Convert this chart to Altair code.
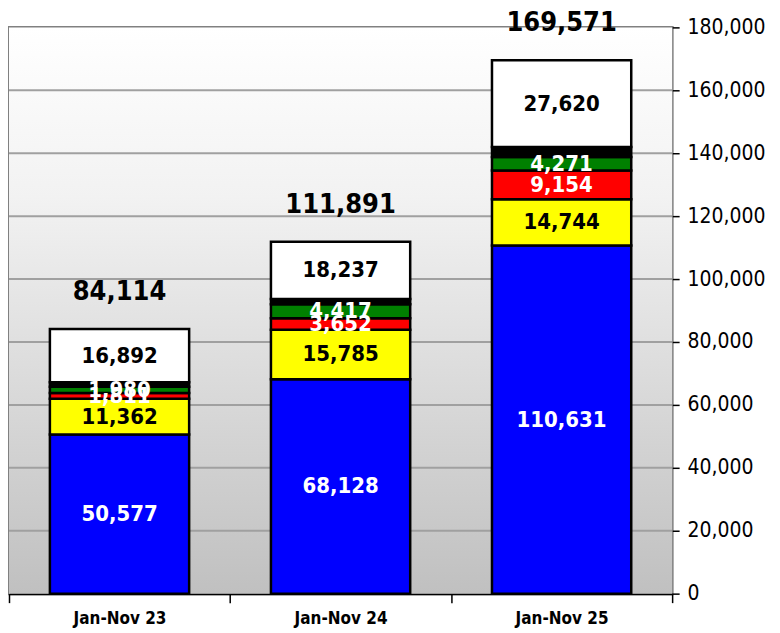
import altair as alt
import pandas as pd

periods = ["Jan-Nov 23", "Jan-Nov 24", "Jan-Nov 25"]
series = ["blue", "yellow", "red", "green", "black", "white"]
blue = [50577, 68128, 110631]
yellow = [11362, 15785, 14744]
red = [1811, 3652, 9154]
green = [1980, 4417, 4271]
black = [1492, 1672, 3151]
white = [16892, 18237, 27620]
totals = [84114, 111891, 169571]
y_ticks = [0, 20000, 40000, 60000, 80000, 100000, 120000, 140000, 160000, 180000]

fill_colors = {"blue": "#0000ff", "yellow": "#ffff00", "red": "#ff0000",
               "green": "#008000", "black": "#000000", "white": "#ffffff"}
text_colors = {"blue": "#ffffff", "yellow": "#000000", "red": "#ffffff",
               "green": "#ffffff", "black": "#000000", "white": "#000000"}
labelled = {"blue", "yellow", "red", "green", "white"}

vals = {"blue": blue, "yellow": yellow, "red": red, "green": green,
        "black": black, "white": white}
rows = []
for i, p in enumerate(periods):
    for k, s in enumerate(series):
        rows.append({"period": p, "series": s, "order": k, "value": vals[s][i],
                     "fill": fill_colors[s], "tc": text_colors[s],
                     "show": s in labelled})
df = pd.DataFrame(rows)
tot_df = pd.DataFrame({"period": periods, "total": totals})
grid_df = pd.DataFrame({"v": y_ticks[1:-1]})

W, H = 664, 567
FONT = "Liberation Sans Narrow, DejaVu Sans Condensed, Arial Narrow, DejaVu Sans, sans-serif"

xscale = alt.Scale(domain=periods, paddingInner=0, paddingOuter=0)
yscale = alt.Scale(domain=[0, 180000], nice=False)

xaxis = alt.Axis(title=None, orient="bottom", labelAngle=0, tickBand="extent",
                 labelFont=FONT, labelFontSize=17, labelFontWeight="bold",
                 labelColor="#000000", labelPadding=8,
                 tickColor="#000000", tickSize=9, tickWidth=1.5,
                 domainColor="#000000", domainWidth=2)
yaxis = alt.Axis(title=None, orient="right", values=y_ticks, format=",d",
                 grid=False, domain=False, tickColor="#000000", tickSize=7,
                 tickWidth=1.5, labelFont=FONT, labelFontSize=21,
                 labelColor="#000000", labelPadding=8)

bg = alt.Chart(pd.DataFrame({"a": [0]})).mark_rect(
    color=alt.LinearGradient(
        gradient="linear", x1=0, y1=0, x2=0, y2=1,
        stops=[alt.GradientStop(color="#ffffff", offset=0),
               alt.GradientStop(color="#f2f2f2", offset=0.3),
               alt.GradientStop(color="#c0c0c0", offset=1)])
).encode(x=alt.value(0), x2=alt.value(W), y=alt.value(0), y2=alt.value(H))

grid = alt.Chart(grid_df).mark_rule(color="#a0a0a0", strokeWidth=2).encode(
    y=alt.Y("v:Q", scale=yscale, axis=yaxis)
)

base = alt.Chart(df).transform_stack(
    stack="value", groupby=["period"], as_=["y0", "y1"],
    sort=[alt.SortField("order", order="ascending")]
).transform_calculate(mid="(datum.y0 + datum.y1) / 2")

bars = base.mark_bar(stroke="#000000", strokeWidth=2.5,
                     width=alt.RelativeBandSize(0.63)).encode(
    x=alt.X("period:N", scale=xscale, sort=periods, axis=xaxis),
    y=alt.Y("y0:Q", scale=yscale, axis=yaxis),
    y2="y1:Q",
    color=alt.Color("fill:N", scale=None),
)

seg_text = base.transform_filter("datum.show").mark_text(
    font=FONT, fontSize=22, fontWeight="bold", baseline="middle", align="center"
).encode(
    x=alt.X("period:N", scale=xscale, sort=periods, axis=xaxis),
    y=alt.Y("mid:Q", scale=yscale, axis=yaxis),
    text=alt.Text("value:Q", format=",d"),
    color=alt.Color("tc:N", scale=None),
)

tot_text = alt.Chart(tot_df).mark_text(
    font=FONT, fontSize=27, fontWeight="bold", baseline="bottom", align="center",
    dy=-23, color="#000000"
).encode(
    x=alt.X("period:N", scale=xscale, sort=periods, axis=xaxis),
    y=alt.Y("total:Q", scale=yscale, axis=yaxis),
    text=alt.Text("total:Q", format=",d"),
)

chart = alt.layer(bg, grid, bars, seg_text, tot_text).properties(
    width=W, height=H,
    autosize=alt.AutoSizeParams(type="none"),
    padding={"left": 1, "top": 19, "right": 100, "bottom": 40},
).configure_view(stroke="#808080", strokeWidth=3)

chart.save("out.html", embed_options={"renderer": "svg", "actions": False})
